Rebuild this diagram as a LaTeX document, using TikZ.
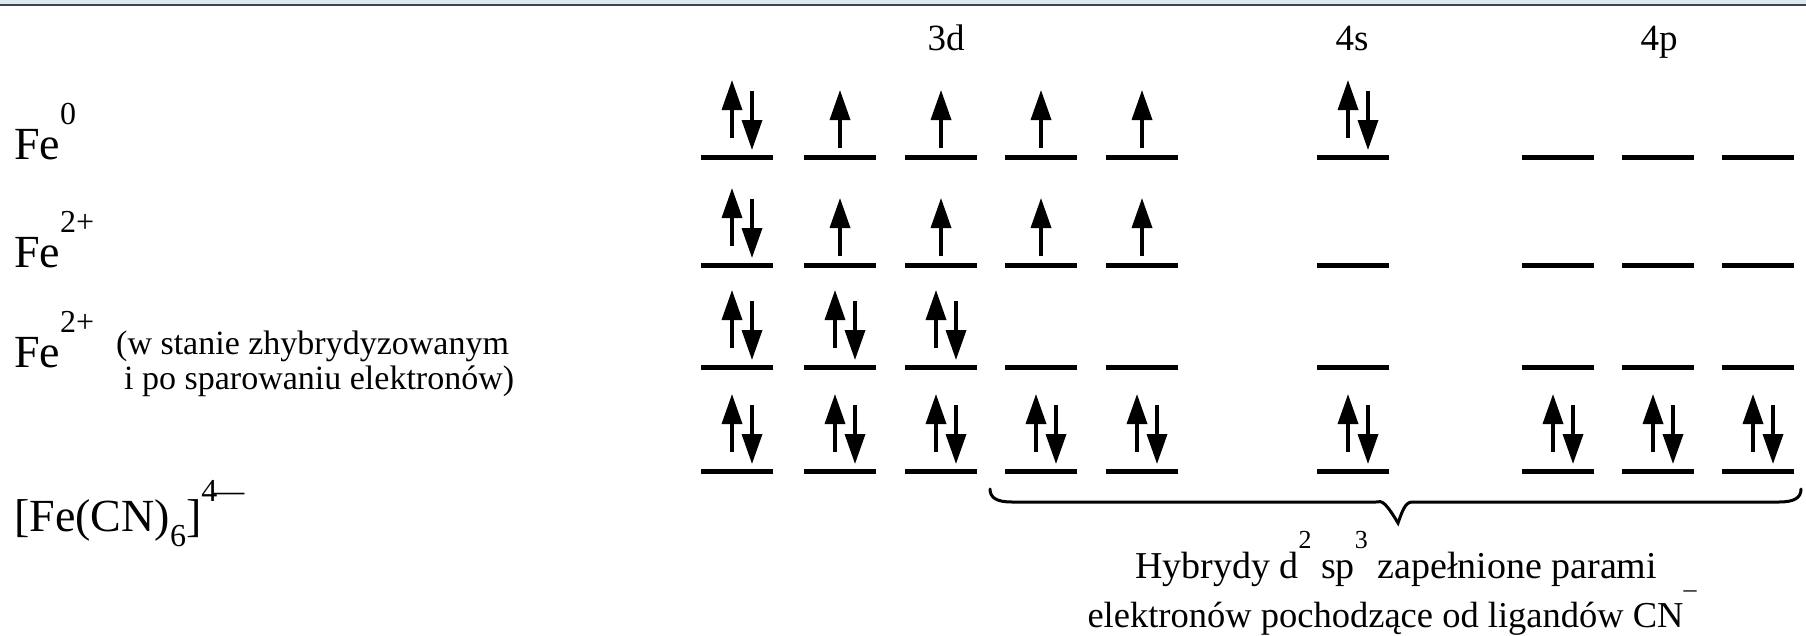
\documentclass[tikz,border=0pt]{standalone}
\usepackage{fontspec}
\setmainfont{Liberation Serif}
\usetikzlibrary{arrows.meta}

\definecolor{bandblue}{HTML}{DCE9EF}
\definecolor{bandline}{HTML}{3C464E}

% raised / lowered small figures beside a formula
\newcommand\supfig[2]{\raisebox{#1}{\fontsize{32}{32}\selectfont #2}}
\newcommand\supsmall[1]{\raisebox{30pt}{\fontsize{26}{26}\selectfont #1}}

% one orbital level: name, x, y, filling (0 empty, 1 one spin up, 2 paired)
\newcommand\mkorb[4]{%
  \node[orb] (#1) at (#2,#3) {};
  \ifnum#4=1
    \draw[spin] ([yshift=9pt]#1.center) -- ([yshift=67pt]#1.center);
  \fi
  \ifnum#4=2
    \draw[spin] ([xshift=-5pt,yshift=19pt]#1.center) -- ([xshift=-5pt,yshift=77pt]#1.center);
    \draw[spin] ([xshift=15pt,yshift=66pt]#1.center) -- ([xshift=15pt,yshift=7pt]#1.center);
  \fi}

\tikzset{
  orb/.style={rectangle, fill=black, inner sep=0pt, minimum width=72pt, minimum height=5pt},
  spin/.style={line width=3.5pt, -{Triangle[length=30pt,width=20pt]}},
  big/.style={inner sep=0pt, font=\fontsize{46}{50}\selectfont},
  note/.style={inner sep=0pt, font=\fontsize{34}{38}\selectfont},
  head/.style={inner sep=0pt, font=\fontsize{37}{40}\selectfont},
  caption/.style={inner sep=0pt, font=\fontsize{38}{42}\selectfont},
  bracestyle/.style={line width=3pt, line cap=round, line join=miter},
}

\begin{document}
\begin{tikzpicture}[x=1pt, y=-1pt]
  \useasboundingbox (0,0) rectangle (1806,635);
  \fill[white] (0,0) rectangle (1806,635);

  % window strip along the top edge
  \fill[bandblue] (0,0) rectangle (1806,4);
  \draw[bandline, line width=1.6pt] (0,4.8) -- (1806,4.8);

  % subshell headings
  \node[head, anchor=base] (h3d) at (946,50) {3d};
  \node[head, anchor=base] (h4s) at (1352,50) {4s};
  \node[head, anchor=base] (h4p) at (1659,50) {4p};

  % species labels
  \node[big, anchor=base west] (fe0) at (14,159) {Fe\supfig{35pt}{0}};
  \node[big, anchor=base west] (fe2) at (14,267) {Fe\supfig{35pt}{2+}};
  \node[big, anchor=base west] (fe2h) at (14,367) {Fe\supfig{35pt}{2+}};
  \node[note, anchor=base west] (hnote1) at (116,354) {(w stanie zhybrydyzowanym};
  \node[note, anchor=base west] (hnote2) at (124,389) {i po sparowaniu elektronów)};
  \node[big, anchor=base west] (cplx) at (14,531)
    {[Fe(CN)\supfig{-15pt}{6}]\supfig{30pt}{4\kern-5pt—}};

  % orbital diagrams: 3d (five), 4s, 4p (three)
  \foreach \i/\x/\f in {1/737/2,2/840/1,3/941/1,4/1041/1,5/1142/1,6/1353/2,7/1558/0,8/1658/0,9/1758/0}
    {\mkorb{ra\i}{\x}{157}{\f}}
  \foreach \i/\x/\f in {1/737/2,2/840/1,3/941/1,4/1041/1,5/1142/1,6/1353/0,7/1558/0,8/1658/0,9/1758/0}
    {\mkorb{rb\i}{\x}{265}{\f}}
  \foreach \i/\x/\f in {1/737/2,2/840/2,3/941/2,4/1041/0,5/1142/0,6/1353/0,7/1558/0,8/1658/0,9/1758/0}
    {\mkorb{rc\i}{\x}{367}{\f}}
  \foreach \i/\x/\f in {1/737/2,2/840/2,3/941/2,4/1041/2,5/1142/2,6/1353/2,7/1558/2,8/1658/2,9/1758/2}
    {\mkorb{rd\i}{\x}{471}{\f}}

  % brace under the six hybrid orbitals
  \coordinate (brL) at (990,489);
  \coordinate (brR) at (1801,489);
  \coordinate (brT) at (1398,523);
  \draw[bracestyle] (brL) .. controls (990,498) and (997,502) .. (1012,502)
    -- (1376,502) .. controls (1382,500) and (1386,503) .. (brT)
    .. controls (1402,512) and (1405,502) .. (1412,502)
    -- (1779,502) .. controls (1794,502) and (1801,498) .. (brR);

  % caption
  \node[caption, anchor=base] (cap1) at (1396,578)
    {Hybrydy d\supsmall{2} sp\supsmall{3} zapełnione parami};
  \node[caption, anchor=base, font=\fontsize{36.5}{40}\selectfont] (cap2) at (1392,627)
    {elektronów pochodzące od ligandów CN\supsmall{–}};
\end{tikzpicture}
\end{document}
